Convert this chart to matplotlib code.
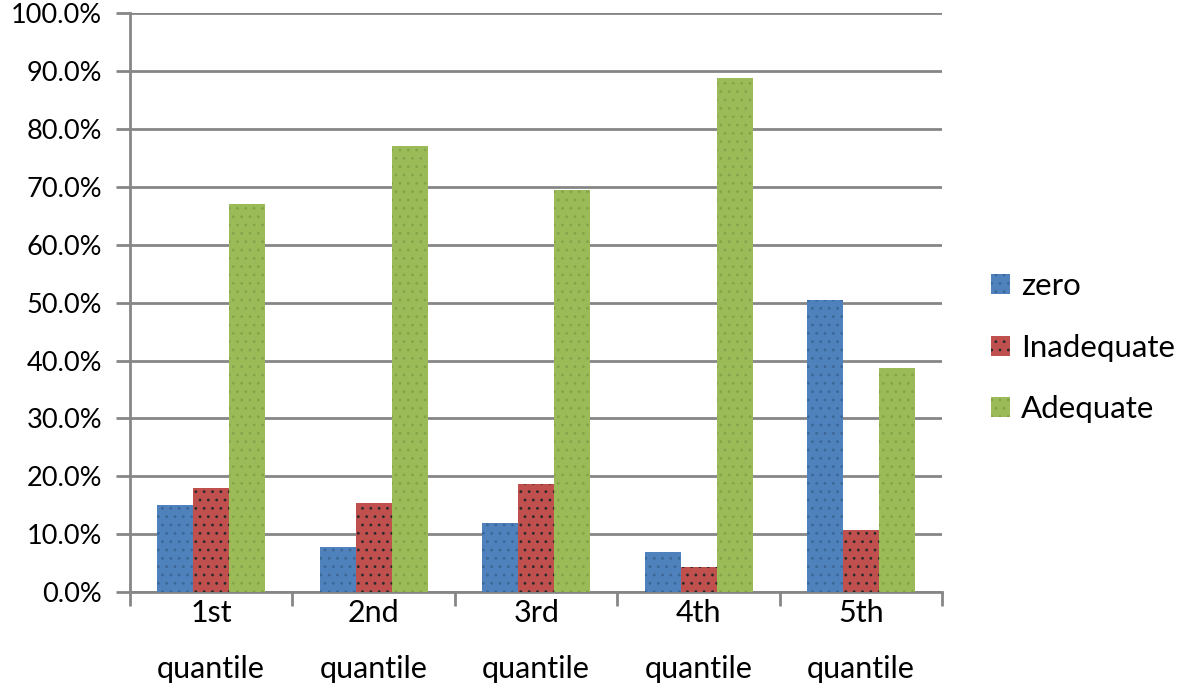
import matplotlib.pyplot as plt
import numpy as np
from matplotlib.ticker import FuncFormatter, MultipleLocator

categories = ["1st\nquantile", "2nd\nquantile", "3rd\nquantile", "4th\nquantile", "5th\nquantile"]
zero = [15.1, 7.8, 12.0, 7.0, 50.5]
inadequate = [18.0, 15.4, 18.6, 4.4, 10.8]
adequate = [67.0, 77.0, 69.4, 88.8, 38.7]

series = [
    ("zero", zero, "#4F81BD", "#3d6797"),
    ("Inadequate", inadequate, "#C0504D", "#2a2a2a"),
    ("Adequate", adequate, "#9BBB59", "#85a34a"),
]

plt.rcParams["font.family"] = ["Lato", "DejaVu Sans"]
plt.rcParams["hatch.linewidth"] = 0.8

fig = plt.figure(figsize=(11.81, 6.95), dpi=100)
ax = fig.add_axes([0.110, 0.148, 0.688, 0.833])

x = np.arange(len(categories))
width = 0.222
for i, (name, vals, color, dots) in enumerate(series):
    ax.bar(x + (i - 1) * width, vals, width, color=color, edgecolor=dots,
           linewidth=0, hatch="..", label=name, zorder=3)

ax.set_xlim(-0.5, len(categories) - 0.5)
ax.set_ylim(0, 100)
ax.yaxis.set_major_locator(MultipleLocator(10))
ax.yaxis.set_major_formatter(FuncFormatter(lambda v, p: f"{v:.1f}%"))
ax.grid(axis="y", color="#868686", linewidth=2, zorder=0)

# category ticks sit between the groups, labels centred under each group
ax.set_xticks(np.arange(len(categories) + 1) - 0.5)
ax.set_xticklabels([])
ax.set_xticks(x, minor=True)
ax.set_xticklabels(categories, minor=True, fontsize=22, linespacing=2.2)
ax.tick_params(axis="x", which="minor", length=0, pad=5)
ax.tick_params(axis="x", which="major", length=10, width=2, color="#868686")
ax.tick_params(axis="y", length=10, width=2, color="#868686", labelsize=19.5, pad=10)

for s in ["top", "right"]:
    ax.spines[s].set_visible(False)
for s in ["left", "bottom"]:
    ax.spines[s].set_color("#868686")
    ax.spines[s].set_linewidth(2)

ax.legend(loc="center left", bbox_to_anchor=(1.06, 0.422), frameon=False,
          fontsize=22.5, handlelength=0.6, handleheight=0.6, handletextpad=0.35,
          labelspacing=1.07, borderpad=0, borderaxespad=0)

fig.savefig("out.png", dpi=100)
